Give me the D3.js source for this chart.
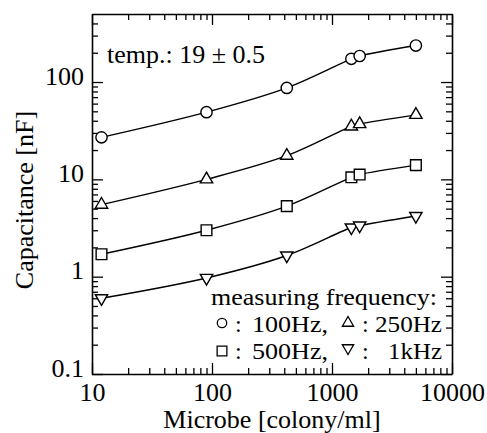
<!DOCTYPE html>
<html><head><meta charset="utf-8">
<script src="https://cdn.jsdelivr.net/npm/d3@7"></script>
<style>body{margin:0;background:#fff}svg{display:block}</style>
</head><body>
<svg id="c" width="487" height="433"></svg>
<script>
const microbe = [12, 90, 420, 1450, 1700, 5000];
const cap100Hz = [27, 49, 87, 173, 185, 237];
const cap250Hz = [5.5, 10, 17.5, 35, 37, 46];
const cap500Hz = [1.7, 3.0, 5.3, 10.5, 11.2, 14];
const cap1kHz = [0.6, 0.97, 1.65, 3.2, 3.35, 4.2];
const xMajor = [10, 100, 1000, 10000];
const yMajor = [0.1, 1, 10, 100];
const xLabels = ["10", "100", "1000", "10000"];
const yLabels = ["0.1", "1", "10", "100"];
const seriesNames = ["100Hz", "250Hz", "500Hz", "1kHz"];

const font = "'Liberation Serif','Times New Roman',serif";
const svg = d3.select("#c");
const L = 92, R = 452, T = 14, B = 374;
const x = d3.scaleLog().domain([10, 10000]).range([L, R]);
const y = d3.scaleLog().domain([0.1, 500]).range([B, T]);

const xMinor = [];
[10, 100, 1000].forEach(d => { for (let k = 2; k <= 9; k++) xMinor.push(d * k); });
const yMinor = [];
[0.1, 1, 10, 100].forEach(d => { for (let k = 2; k <= 9; k++) if (d * k < 500) yMinor.push(d * k); });

function style(g, showText) {
  g.selectAll("path.domain").attr("stroke", "#000").attr("stroke-width", 1.6);
  g.selectAll(".tick line").attr("stroke", "#000").attr("stroke-width", 1.3);
  g.selectAll("text").attr("font-family", font).attr("font-size", 26).attr("fill", "#000");
  if (!showText) g.selectAll("text").remove();
}
// bottom
const gb = svg.append("g").attr("transform", `translate(0,${B})`)
  .call(d3.axisBottom(x).tickValues(xMajor).tickFormat((d, i) => xLabels[i]).tickSize(-11).tickSizeOuter(0).tickPadding(9));
style(gb, true);
const gbm = svg.append("g").attr("transform", `translate(0,${B})`)
  .call(d3.axisBottom(x).tickValues(xMinor).tickFormat("").tickSize(-6).tickSizeOuter(0));
style(gbm, false); gbm.select(".domain").remove();
// top
const gt = svg.append("g").attr("transform", `translate(0,${T})`)
  .call(d3.axisTop(x).tickValues(xMajor).tickFormat("").tickSize(-11).tickSizeOuter(0));
style(gt, false);
const gtm = svg.append("g").attr("transform", `translate(0,${T})`)
  .call(d3.axisTop(x).tickValues(xMinor).tickFormat("").tickSize(-6).tickSizeOuter(0));
style(gtm, false); gtm.select(".domain").remove();
// left
const gl = svg.append("g").attr("transform", `translate(${L},0)`)
  .call(d3.axisLeft(y).tickValues(yMajor).tickFormat((d, i) => yLabels[i]).tickSize(-11).tickSizeOuter(0).tickPadding(8));
style(gl, true);
gl.selectAll("text").attr("dy", 2);
const glm = svg.append("g").attr("transform", `translate(${L},0)`)
  .call(d3.axisLeft(y).tickValues(yMinor).tickFormat("").tickSize(-6).tickSizeOuter(0));
style(glm, false); glm.select(".domain").remove();
// right
const gr = svg.append("g").attr("transform", `translate(${R},0)`)
  .call(d3.axisRight(y).tickValues(yMajor).tickFormat("").tickSize(-11).tickSizeOuter(0));
style(gr, false);
const grm = svg.append("g").attr("transform", `translate(${R},0)`)
  .call(d3.axisRight(y).tickValues(yMinor).tickFormat("").tickSize(-6).tickSizeOuter(0));
style(grm, false); grm.select(".domain").remove();

// axis titles
svg.append("text").attr("x", (L + R) / 2).attr("y", 428).attr("text-anchor", "middle")
  .attr("font-family", font).attr("font-size", 26).text("Microbe [colony/ml]");
svg.append("text").attr("transform", `translate(33,${(T + B) / 2 + 6}) rotate(-90)`).attr("text-anchor", "middle")
  .attr("font-family", font).attr("font-size", 26).text("Capacitance [nF]");

// series
const series = [cap100Hz, cap250Hz, cap500Hz, cap1kHz];
const symbols = [
  d3.symbol().type(d3.symbolCircle).size(100),
  d3.symbol().type(d3.symbolTriangle).size(66),
  d3.symbol().type(d3.symbolSquare).size(115),
  d3.symbol().type(d3.symbolTriangle).size(66)
];
const rot = [0, 0, 0, 180];
const line = d3.line().x(d => x(d[0])).y(d => y(d[1])).curve(d3.curveCatmullRom.alpha(0.5));
series.forEach((vals, si) => {
  const pts = microbe.map((m, i) => [m, vals[i]]);
  svg.append("path").datum(pts).attr("d", line).attr("fill", "none").attr("stroke", "#000").attr("stroke-width", 1.4);
  svg.append("g").selectAll("path").data(pts).join("path")
    .attr("transform", d => `translate(${x(d[0])},${y(d[1])}) rotate(${rot[si]})`)
    .attr("d", symbols[si]()).attr("fill", "#fff").attr("stroke", "#000").attr("stroke-width", 1.4);
});

// annotation
svg.append("text").attr("x", 107).attr("y", 63).attr("font-family", font).attr("font-size", 26).text("temp.: 19 ± 0.5");

// legend
const lf = 24;
svg.append("text").attr("x", 211).attr("y", 305).attr("font-family", font).attr("font-size", lf)
  .attr("textLength", 226).attr("lengthAdjust", "spacingAndGlyphs").text("measuring frequency:");
const legItems = [
  {sx: 222, sy: 323, cx: 235, lx: 252, lw: 76, ty: 332, si: 0, label: seriesNames[0] + ","},
  {sx: 348, sy: 323, cx: 362, lx: 375, lw: 67, ty: 332, si: 1, label: seriesNames[1]},
  {sx: 222, sy: 351, cx: 235, lx: 252, lw: 76, ty: 359, si: 2, label: seriesNames[2] + ","},
  {sx: 348, sy: 348, cx: 362, lx: 388, lw: 54, ty: 359, si: 3, label: seriesNames[3]}
];
const legSym = [
  d3.symbol().type(d3.symbolCircle).size(70),
  d3.symbol().type(d3.symbolTriangle).size(55),
  d3.symbol().type(d3.symbolSquare).size(95),
  d3.symbol().type(d3.symbolTriangle).size(55)
];
legItems.forEach(it => {
  svg.append("path").attr("transform", `translate(${it.sx},${it.sy}) rotate(${rot[it.si]})`)
    .attr("d", legSym[it.si]()).attr("fill", "#fff").attr("stroke", "#000").attr("stroke-width", 1.3);
  svg.append("text").attr("x", it.cx).attr("y", it.ty).attr("font-family", font).attr("font-size", lf).text(":");
  svg.append("text").attr("x", it.lx).attr("y", it.ty).attr("font-family", font).attr("font-size", lf)
    .attr("textLength", it.lw).attr("lengthAdjust", "spacingAndGlyphs").text(it.label);
});
</script>
</body></html>
